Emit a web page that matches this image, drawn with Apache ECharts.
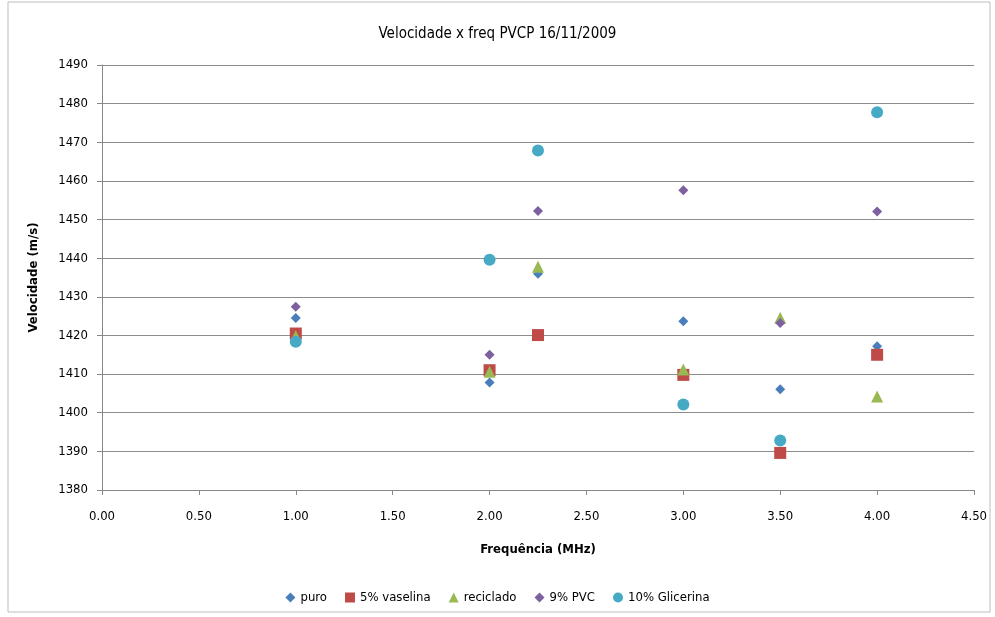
<!DOCTYPE html>
<html><head><meta charset="utf-8">
<script src="https://cdn.jsdelivr.net/npm/echarts@6/dist/echarts.min.js"></script>
<style>html,body{margin:0;padding:0;background:#fff}#c{width:995px;height:617px}</style>
</head><body><div id="c"></div>
<script>
const seriesNames = ['puro', '5% vaselina', 'reciclado', '9% PVC', '10% Glicerina'];
const freq = [1.0, 2.0, 2.25, 3.0, 3.5, 4.0];
const puro      = [1424.5, 1407.8, 1436.0, 1423.7, 1406.1, 1417.2];
const vaselina  = [1420.5, 1411.0, 1420.1, 1409.8, 1389.6, 1415.0];
const reciclado = [1419.8, 1410.6, 1437.8, 1411.2, 1424.6, 1404.2];
const pvc9      = [1427.4, 1415.0, 1452.2, 1457.6, 1423.2, 1452.1];
const glicerina = [1418.4, 1439.6, 1467.9, 1402.1, 1392.8, 1477.8];
const colors = ['#4a7ebb', '#be4b48', '#98b954', '#7d60a0', '#46aac5'];
const symbols = ['diamond', 'rect', 'triangle', 'diamond', 'circle'];
const sizes = [10, 12, 12, 10, 12];
const allVals = [puro, vaselina, reciclado, pvc9, glicerina];

const font = '"DejaVu Sans Condensed", "Liberation Sans Narrow", "Liberation Sans", Arial, sans-serif';
const chart = echarts.init(document.getElementById('c'));
chart.setOption({
  backgroundColor: '#fff',
  animation: false,
  title: {
    text: 'Velocidade x freq PVCP 16/11/2009',
    left: 'center', top: 22,
    textStyle: { fontFamily: font, fontSize: 15, fontWeight: 'normal', color: '#000' }
  },
  graphic: [{
    type: 'rect', shape: { x: 8, y: 2, width: 982, height: 610 },
    style: { fill: 'none', stroke: '#bdbdbd', lineWidth: 1 }, silent: true
  }],
  legend: {
    bottom: 8, left: 'center', itemGap: 18, itemWidth: 10, itemHeight: 10,
    textStyle: { fontFamily: font, fontSize: 13, color: '#000' },
    data: seriesNames.map((n, i) => ({ name: n, icon: symbols[i] }))
  },
  grid: { left: 102, right: 21, top: 65, bottom: 127, containLabel: false },
  xAxis: {
    type: 'value', min: 0, max: 4.5, interval: 0.5,
    name: 'Frequência (MHz)', nameLocation: 'middle', nameGap: 53,
    nameTextStyle: { fontFamily: font, fontSize: 13, fontWeight: 'bold', color: '#000' },
    axisLine: { show: true, lineStyle: { color: '#888' } },
    axisTick: { show: true, inside: false, length: 5, lineStyle: { color: '#888' } },
    axisLabel: { fontFamily: font, fontSize: 13, color: '#000', margin: 20, formatter: v => v.toFixed(2) },
    splitLine: { show: false }
  },
  yAxis: {
    type: 'value', min: 1380, max: 1490, interval: 10,
    name: 'Velocidade (m/s)', nameLocation: 'middle', nameGap: 62, nameRotate: 90,
    nameTextStyle: { fontFamily: font, fontSize: 13, fontWeight: 'bold', color: '#000' },
    axisLine: { show: true, lineStyle: { color: '#888' } },
    axisTick: { show: true, length: 5, lineStyle: { color: '#888' } },
    axisLabel: { fontFamily: font, fontSize: 13, color: '#000', margin: 14, formatter: v => String(v) },
    splitLine: { show: true, lineStyle: { color: '#8c8c8c', width: 1 } }
  },
  series: seriesNames.map((n, i) => ({
    name: n, type: 'scatter', symbol: symbols[i], symbolSize: sizes[i],
    itemStyle: { color: colors[i], opacity: 1 },
    data: freq.map((f, j) => [f, allVals[i][j]])
  }))
});
</script></body></html>
